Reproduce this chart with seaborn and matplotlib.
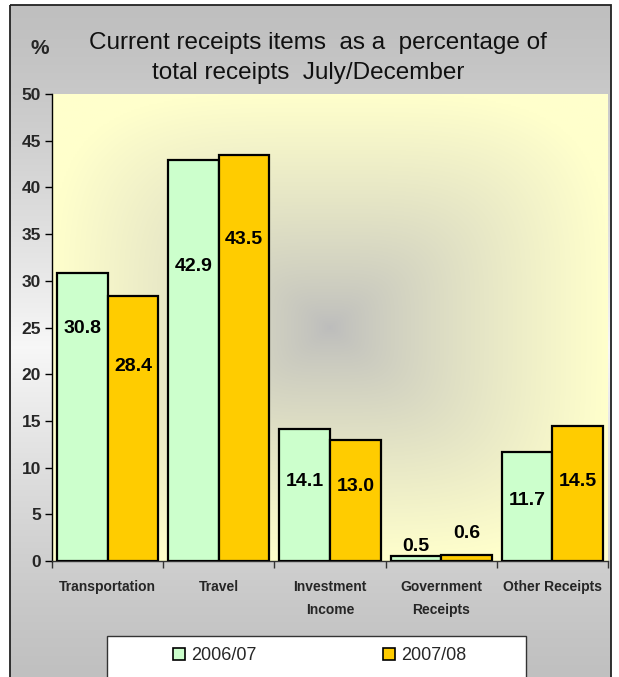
import numpy as np
import pandas as pd
import matplotlib
matplotlib.use("Agg")
import matplotlib.pyplot as plt
from matplotlib.patches import Rectangle
from matplotlib.colors import to_rgb
import seaborn as sns

# ---- data -------------------------------------------------------------
categories = ["Transportation", "Travel", "Investment\nIncome",
              "Government\nReceipts", "Other Receipts"]
series = ["2006/07", "2007/08"]
share_2006_07 = [30.8, 42.9, 14.1, 0.5, 11.7]
share_2007_08 = [28.4, 43.5, 13.0, 0.6, 14.5]
# heights (in %) at which each value label is written
label_at_2006_07 = [24.9, 31.5, 8.5, 1.6, 6.5]
label_at_2007_08 = [20.8, 34.4, 8.0, 2.9, 8.5]
y_ticks = [0, 5, 10, 15, 20, 25, 30, 35, 40, 45, 50]

colors = ["#CCFFCC", "#FFCC00"]

df = pd.DataFrame({
    "category": categories * 2,
    "period": [series[0]] * len(categories) + [series[1]] * len(categories),
    "share": share_2006_07 + share_2007_08,
})

sns.set_theme(style="white")
plt.rcParams["font.family"] = ["Liberation Sans", "DejaVu Sans"]

W, H = 619, 677
fig = plt.figure(figsize=(W / 100, H / 100), dpi=100)
fig.patch.set_facecolor("white")

# ---- chart-area background: vertical grey-white-grey gradient ----------
bg = fig.add_axes([0, 0, 1, 1], zorder=-10)
bg.set_xlim(0, W)
bg.set_ylim(H, 0)
bg.axis("off")
yy = np.linspace(0, 1, 400)[:, None]
g = 0.75 + 0.22 * (1 - np.abs(yy - 0.5) * 2) ** 1.3
grad = np.repeat(g, 2, axis=1)
bg.imshow(np.dstack([grad, grad, grad]), extent=(10, 611, 690, 5),
          aspect="auto", interpolation="bilinear", zorder=0)
bg.add_patch(Rectangle((10, 5), 601, 700, fill=False, edgecolor="#222222",
                       linewidth=1.3, zorder=2))

# ---- plot area ---------------------------------------------------------
left, right, top, bottom = 52, 608, 94, 561
ax = fig.add_axes([left / W, 1 - bottom / H, (right - left) / W, (bottom - top) / H])

sns.barplot(data=df, x="category", y="share", hue="period", order=categories,
            hue_order=series, palette=colors, edgecolor="black", linewidth=1.6,
            width=0.91, gap=0, saturation=1, legend=False, ax=ax, zorder=3)

ax.set_xlim(-0.5, len(categories) - 0.5)
ax.set_ylim(0, 50)

# soft rectangular "from centre" gradient: grey centre fading to pale yellow
n = 300
xs = np.linspace(-1, 1, n)
X, Y = np.meshgrid(xs, xs)
d = (np.abs(X) ** 4 + np.abs(Y) ** 4) ** 0.25
t = np.clip(d, 0, 1) ** 0.8
c0 = np.array(to_rgb("#BCBCBC"))
c1 = np.array(to_rgb("#FFFFCC"))
img = c0[None, None, :] * (1 - t[..., None]) + c1[None, None, :] * t[..., None]
ax.imshow(img, extent=(-0.5, len(categories) - 0.5, 0, 50), aspect="auto",
          interpolation="bilinear", zorder=0)

for s in ["top", "right"]:
    ax.spines[s].set_visible(False)
ax.spines["left"].set_color("black")
ax.spines["bottom"].set_color("#333333")
ax.spines["left"].set_linewidth(1.0)
ax.spines["bottom"].set_linewidth(1.0)

ax.set_yticks(y_ticks)
ax.set_yticklabels([str(v) for v in y_ticks], fontsize=12.5, fontweight="bold")
ax.tick_params(axis="y", left=True, length=5, width=1, color="black", pad=3)

ax.set_xticks(range(len(categories)))
ax.set_xticklabels(categories, fontsize=10, fontweight="bold", linespacing=1.8)
ax.tick_params(axis="x", bottom=False, pad=8)
ax.set_xticks(np.arange(-0.5, len(categories)), minor=True)
ax.tick_params(axis="x", which="minor", bottom=True, length=5, width=1,
               color="#333333")
ax.set_xlabel("")
ax.set_ylabel("")
ax.grid(False)

# value labels
for container, pos in zip(ax.containers, [label_at_2006_07, label_at_2007_08]):
    for bar, yv in zip(container, pos):
        ax.text(bar.get_x() + bar.get_width() / 2, yv, f"{bar.get_height():.1f}",
                ha="center", va="center", fontsize=14, fontweight="bold",
                color="black", zorder=5)

# ---- titles ------------------------------------------------------------
fig.text(318 / W, 1 - 43 / H, "Current receipts items  as a  percentage of",
         ha="center", va="center", fontsize=17.5, color="#111111")
fig.text(308 / W, 1 - 73 / H, "total receipts  July/December",
         ha="center", va="center", fontsize=17.5, color="#111111")
fig.text(40 / W, 1 - 48 / H, "%", ha="center", va="center", fontsize=15,
         fontweight="bold")

# ---- legend ------------------------------------------------------------
bg.add_patch(Rectangle((107, 636), 419, 60, facecolor="white",
                       edgecolor="#333333", linewidth=1.0, zorder=3))
handles = [Rectangle((0, 0), 1, 1, facecolor=c, edgecolor="black", linewidth=1.2)
           for c in colors]
fig.legend(handles, series, loc="center", bbox_to_anchor=(320 / W, 1 - 656 / H),
           ncol=2, frameon=False, fontsize=13, handlelength=0.65,
           handleheight=0.65, handletextpad=0.35, columnspacing=7.0)

fig.savefig("out.png", dpi=100)
